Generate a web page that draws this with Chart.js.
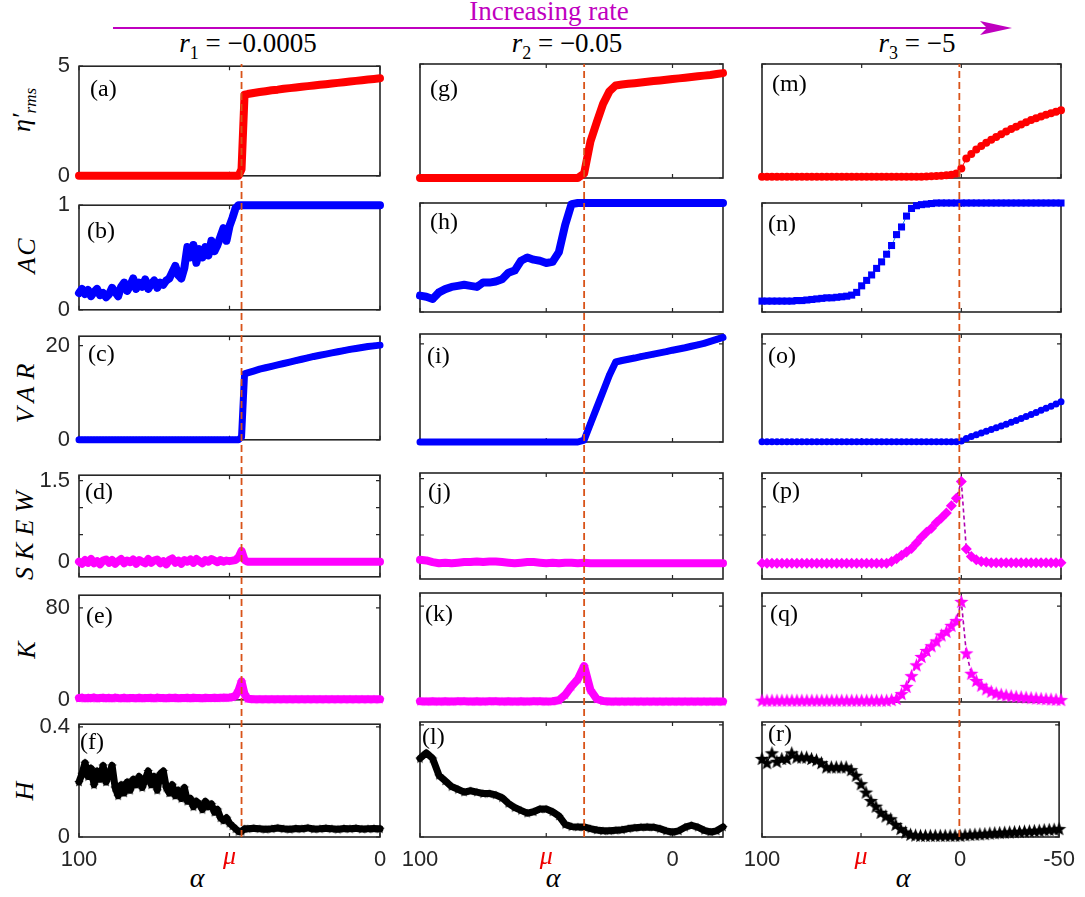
<!DOCTYPE html>
<html>
<head>
<meta charset="utf-8">
<script src="https://cdn.jsdelivr.net/npm/chart.js@4.4.0/dist/chart.umd.min.js"></script>
<style>
  html, body { margin: 0; padding: 0; background: #fff; }
  #fig { position: relative; width: 1085px; height: 897px; overflow: hidden; background: #fff; }
  #fig canvas { position: absolute; }
  .txt { position: absolute; white-space: nowrap; font-family: 'Liberation Serif', serif; color: #000; }
  .c { transform: translate(-50%, -50%); }
  .yl { font-style: italic; font-size: 26px; transform: translate(-50%, -50%) rotate(-90deg); }
  .yl sub { font-size: 17px; }
  .ct { font-size: 27px; }
  .ct sub { font-size: 18px; }
  .lt { font-size: 24px; line-height: 1; }
  .al { font-style: italic; font-size: 28px; }
</style>
</head>
<body>
<div id="fig">
  <svg width="1085" height="60" style="position:absolute;left:0;top:0">
    <line x1="113" y1="28" x2="990" y2="28" stroke="#bf00bf" stroke-width="2"/>
    <polygon points="980,21 1012,28 980,35 987,28" fill="#bf00bf"/>
  </svg>
  <div class="txt c" style="left:549px;top:11px;font-size:27px;color:#bf00bf">Increasing rate</div>
  <div class="txt c ct" style="left:248px;top:46px"><i>r</i><sub>1</sub> = −0.0005</div>
  <div class="txt c ct" style="left:567px;top:46px"><i>r</i><sub>2</sub> = −0.05</div>
  <div class="txt c ct" style="left:917px;top:46px"><i>r</i><sub>3</sub> = −5</div>

  <div class="txt yl" style="left:24px;top:110px">η′<sub>rms</sub></div>
  <div class="txt yl" style="left:27px;top:255px;letter-spacing:2px">AC</div>
  <div class="txt yl" style="left:26px;top:390px;letter-spacing:7px">VAR</div>
  <div class="txt yl" style="left:25px;top:532px;letter-spacing:7px">SKEW</div>
  <div class="txt yl" style="left:27px;top:650px">K</div>
  <div class="txt yl" style="left:25px;top:791px">H</div>

  <div class="txt c al" style="left:197px;top:878px">α</div>
  <div class="txt c al" style="left:553px;top:878px">α</div>
  <div class="txt c al" style="left:903px;top:878px">α</div>
</div>

<script>
// ---------- data ----------
const alpha1 = [100,99,98,97,96,95,94,93,92,91,
                90,89,88,87,86,85,84,83,82,81,
                80,79,78,77,76,75,74,73,72,71,
                70,69,68,67,66,65,64,63,62,61,
                60,59,58,57,56,55,54,53,52,51,
                50,49,48,47,46,45,
                44,42,40,38,36,34,32,30,28,26,24,22,20,18,16,14,12,10,8,6,4,2,0];
const alpha2 = [100,97.5,95,92.5,90,87.5,85,82.5,80,77.5,75,72.5,70,67.5,65,62.5,60,57.5,55,52.5,50,47.5,45,42.5,40,37.5,35,32.5,30,27.5,25,22.5,20,17.5,15,12.5,10,7.5,5,2.5,0,-2.5,-5,-7.5,-10,-12.5,-15,-17.5,-20];
const alpha3 = [100,97.5,95,92.5,90,87.5,85,82.5,80,77.5,75,72.5,70,67.5,65,62.5,60,57.5,55,52.5,50,47.5,45,42.5,40,37.5,35,32.5,30,27.5,25,22.5,20,17.5,15,12.5,10,7.5,5,2.5,0,-2.5,-5,-7.5,-10,-12.5,-15,-17.5,-20,-22.5,-25,-27.5,-30,-32.5,-35,-37.5,-40,-42.5,-45,-47.5,-50];

// dashed line position (alpha) per column, and alpha ranges / ticks
const tipAlpha = [46, 35, 1];
const alphaMin = [0, -20, -50];
const alphaMax = [100, 100, 100];
const alphaTicks = [[100, 50, 0], [100, 50, 0], [100, 50, 0, -50]];
const muTick = 50;

// y ranges and ticks per row
const yMin = [0, 0, 0, -0.28, 0, 0];
const yMax = [5, 1, 22, 1.6, 91, 0.41];
const yTicks = [[0, 5], [0, 1], [0, 20], [0, 0.5, 1, 1.5], [0, 80], [0, 0.4]];
const yTickText = [['0', '5'], ['0', '1'], ['0', '20'], ['0', '', '', '1.5'], ['0', '80'], ['0', '0.4']];

// column 1: r1 = -0.0005
const etaA = [0,0,0,0,0,0,0,0,0,0,
              0,0,0,0,0,0,0,0,0,0,
              0,0,0,0,0,0,0,0,0,0,
              0,0,0,0,0,0,0,0,0,0,
              0,0,0,0,0,0,0,0,0,0,
              0,0,0,0,0.3,3.7,
              3.73,3.78,3.82,3.86,3.9,3.93,3.97,4.0,4.03,4.06,4.09,4.12,4.15,4.18,4.21,4.24,4.27,4.3,4.33,4.36,4.39,4.42,4.45];
const acB = [0.16,0.2,0.15,0.19,0.13,0.17,0.2,0.14,0.16,0.12,
             0.15,0.21,0.17,0.13,0.22,0.26,0.18,0.23,0.3,0.2,
             0.26,0.22,0.29,0.2,0.25,0.28,0.21,0.26,0.24,0.28,
             0.3,0.36,0.42,0.33,0.3,0.4,0.6,0.5,0.62,0.45,
             0.58,0.5,0.6,0.52,0.66,0.56,0.62,0.7,0.78,0.66,
             0.8,0.88,0.97,1,1,1,
             1,1,1,1,1,1,1,1,1,1,1,1,1,1,1,1,1,1,1,1,1,1,1];
const varC = [0,0,0,0,0,0,0,0,0,0,
              0,0,0,0,0,0,0,0,0,0,
              0,0,0,0,0,0,0,0,0,0,
              0,0,0,0,0,0,0,0,0,0,
              0,0,0,0,0,0,0,0,0,0,
              0,0,0,0,0.6,14.0,
              14.2,14.6,15.0,15.3,15.6,15.9,16.2,16.5,16.8,17.1,17.4,17.7,17.95,18.2,18.45,18.7,18.95,19.2,19.4,19.6,19.8,19.95,20.1];
const skewD = [0,-0.04,0.03,-0.02,0.05,-0.03,0.01,-0.05,0.02,0.04,
               -0.02,0.03,-0.04,0.01,0.05,-0.03,0.02,-0.01,0.04,-0.04,
               0.03,0,-0.03,0.05,-0.02,0.02,0.04,-0.03,0.01,-0.05,
               0.03,0.06,-0.02,0.02,-0.04,0.03,0,0.04,-0.02,0.05,
               0.01,-0.03,0.03,0,0.05,0.02,-0.01,0.03,0,0.02,
               0.01,0.02,0.03,0.08,0.2,0.03,
               0,0,0,0,0,0,0,0,0,0,0,0,0,0,0,0,0,0,0,0,0,0,0];
const kurtE = [1.5,1.9,1.3,1.7,1.4,2.0,1.3,1.6,1.8,1.4,
               1.7,1.3,1.9,1.5,1.4,1.8,1.3,1.6,1.5,1.4,
               1.8,1.4,1.6,1.5,1.7,1.3,1.9,1.5,1.6,1.4,
               1.7,1.5,1.8,1.4,1.6,1.5,1.7,1.4,1.8,1.5,
               1.6,1.4,1.7,1.5,1.6,1.8,1.5,1.7,1.9,1.8,
               2.0,2.4,3.5,8,16,5,
               1.0,0.5,0.5,0.5,0.5,0.5,0.5,0.5,0.5,0.5,0.5,0.5,0.5,0.5,0.5,0.5,0.5,0.5,0.5,0.5,0.5,0.5,0.5];
const hurstF = [0.2,0.23,0.27,0.22,0.25,0.19,0.24,0.21,0.26,0.2,
                0.23,0.26,0.18,0.15,0.19,0.16,0.2,0.17,0.21,0.19,
                0.22,0.18,0.21,0.24,0.19,0.22,0.17,0.23,0.24,0.18,
                0.16,0.19,0.15,0.17,0.14,0.18,0.13,0.14,0.11,0.13,
                0.12,0.1,0.13,0.11,0.12,0.09,0.1,0.07,0.06,0.07,
                0.05,0.04,0.03,0.02,0.02,0.03,
                0.03,0.032,0.03,0.028,0.03,0.033,0.03,0.028,0.031,0.03,0.033,0.029,0.03,0.032,0.03,0.028,0.031,0.03,0.032,0.029,0.03,0.031,0.03];

// column 2: r2 = -0.05
const etaG = [0,0,0,0,0,0,0,0,0,0,0,0,0,0,0,0,0,0,0,0,0,0,0,0,0,0,0.2,1.6,2.45,3.25,3.8,4.06,4.1,4.13,4.16,4.19,4.22,4.25,4.28,4.31,4.34,4.37,4.4,4.43,4.46,4.49,4.52,4.56,4.6];
const acH = [0.15,0.14,0.12,0.18,0.21,0.23,0.24,0.25,0.24,0.23,0.27,0.27,0.28,0.3,0.36,0.38,0.47,0.5,0.48,0.47,0.45,0.46,0.55,0.8,0.99,1,1,1,1,1,1,1,1,1,1,1,1,1,1,1,1,1,1,1,1,1,1,1,1];
const varI = [0,0,0,0,0,0,0,0,0,0,0,0,0,0,0,0,0,0,0,0,0,0,0,0,0,0,0.4,3.7,7.0,10.3,13.6,16.3,16.6,16.85,17.1,17.4,17.65,17.9,18.15,18.4,18.7,18.95,19.2,19.5,19.8,20.1,20.5,20.9,21.3];
const skewJ = [0.06,0.05,0.02,0,0.01,0,0.01,0.02,0.02,0.03,0.02,0.03,0.03,0.02,0.01,0,0.01,0.02,0.02,0.01,0,0.01,0,0.01,0.01,0,0.01,0,0,0,0,0,0,0,0,0,0,0,0,0,0,0,0,0,0,0,0,0,0];
const kurtK = [0.6,0.5,0.7,0.5,0.6,0.5,0.6,0.7,0.5,0.6,0.5,0.6,0.7,0.5,0.6,0.5,0.6,0.5,0.7,0.6,0.5,0.6,1.5,6,13,19,30,10,2.5,0.8,0.4,0.4,0.4,0.4,0.4,0.4,0.4,0.4,0.4,0.4,0.4,0.4,0.4,0.4,0.4,0.4,0.4,0.4,0.4];
const hurstL = [0.28,0.3,0.28,0.22,0.2,0.18,0.17,0.16,0.165,0.16,0.155,0.155,0.15,0.14,0.12,0.105,0.095,0.085,0.09,0.1,0.1,0.09,0.075,0.045,0.037,0.036,0.036,0.03,0.025,0.022,0.022,0.024,0.026,0.03,0.033,0.035,0.036,0.035,0.03,0.022,0.018,0.022,0.035,0.042,0.035,0.024,0.018,0.022,0.036];

// column 3: r3 = -5
const etaM = [0.05,0.05,0.05,0.05,0.05,0.05,0.05,0.05,0.05,0.05,0.05,0.05,0.05,0.05,0.05,0.05,0.05,0.05,0.05,0.05,0.05,0.05,0.05,0.05,0.05,0.05,0.05,0.05,0.05,0.05,0.05,0.05,0.06,0.07,0.08,0.09,0.1,0.12,0.14,0.2,0.42,0.85,1.05,1.25,1.4,1.55,1.68,1.8,1.92,2.04,2.15,2.25,2.35,2.45,2.54,2.62,2.7,2.77,2.84,2.91,2.97];
const acN = [0.1,0.1,0.1,0.1,0.1,0.1,0.1,0.105,0.105,0.11,0.115,0.12,0.125,0.13,0.13,0.135,0.14,0.145,0.155,0.18,0.24,0.29,0.34,0.4,0.46,0.53,0.61,0.71,0.78,0.88,0.95,0.975,0.985,0.99,0.995,1,1,1,1,1,1,1,1,1,1,1,1,1,1,1,1,1,1,1,1,1,1,1,1,1,1];
const varO = [0.05,0.05,0.05,0.05,0.05,0.05,0.05,0.05,0.05,0.05,0.05,0.05,0.05,0.05,0.05,0.05,0.05,0.05,0.05,0.05,0.05,0.05,0.05,0.05,0.05,0.05,0.05,0.05,0.05,0.05,0.05,0.05,0.05,0.05,0.05,0.05,0.05,0.05,0.05,0.05,0.2,0.7,1.1,1.5,1.85,2.2,2.55,2.9,3.25,3.6,4.0,4.4,4.8,5.2,5.6,6.0,6.45,6.9,7.3,7.75,8.2];
const skewP = [0,0,0,0,0,0,0,0,0,0,0,0,0,0,0,0,0,0,0,0,0,0,0,0,0,0,0.03,0.08,0.14,0.2,0.26,0.36,0.46,0.55,0.62,0.72,0.8,0.89,1.02,1.15,1.45,0.25,0.12,0.06,0.03,0.02,0.01,0.01,0.01,0.01,0.01,0.01,0.01,0.01,0.01,0.01,0.01,0.01,0.01,0.01,0.01];
const kurtQ = [1.5,1.5,1.5,1.5,1.5,1.5,1.5,1.5,1.5,1.5,1.5,1.5,1.5,1.5,1.5,1.5,1.5,1.5,1.5,1.5,1.5,1.5,1.5,1.5,1.5,1.5,2,3,7,13,22,31,38,43,47,51,56,59,64,68,84,41,24,18,14,11,9,7.5,6.5,5.8,5.2,4.7,4.3,4,3.6,3.3,3,2.7,2.5,2.2,2];
const hurstR = [0.28,0.265,0.3,0.27,0.28,0.28,0.3,0.285,0.285,0.285,0.28,0.275,0.265,0.25,0.25,0.25,0.25,0.25,0.24,0.22,0.19,0.16,0.13,0.11,0.088,0.075,0.065,0.045,0.03,0.018,0.01,0.007,0.006,0.006,0.006,0.006,0.006,0.006,0.006,0.006,0.006,0.008,0.009,0.01,0.011,0.012,0.014,0.015,0.016,0.017,0.018,0.019,0.02,0.021,0.022,0.023,0.024,0.026,0.027,0.028,0.03];

// ---------- layout ----------
const COLS = [{ left: 79, right: 380 }, { left: 420, right: 723 }, { left: 762, right: 1061 }];
const ROWS = [{ top: 64, bottom: 178 }, { top: 203, bottom: 312 }, { top: 334, bottom: 442 },
              { top: 473, bottom: 579 }, { top: 593, bottom: 702 }, { top: 722, bottom: 837 }];
const PAD_L = 70, PAD_R = 24, PAD_T = 20, PAD_B = 20, PAD_B_LAST = 52;

const alphas = [alpha1, alpha2, alpha3];
const series = [
  [etaA, acB, varC, skewD, kurtE, hurstF],
  [etaG, acH, varI, skewJ, kurtK, hurstL],
  [etaM, acN, varO, skewP, kurtQ, hurstR],
];
const letterPos = [
  [[90, 80], [87, 222], [88, 345], [85, 483], [86, 607], [80, 733]],
  [[430, 80], [430, 213], [427, 347], [428, 483], [425, 605], [422, 728]],
  [[772, 75], [768, 215], [768, 347], [772, 482], [770, 605], [768, 725]],
];
const ROW_COLOR = ['#ff0000', '#0000ff', '#0000ff', '#ff00ff', '#ff00ff', '#000000'];
const ROW_MARK = ['circle', 'rect', 'circle', 'rectRot', 'star', 'star'];
const TEXT = '#262626';

function starImg(color, r) {
  const c = document.createElement('canvas');
  const s = Math.ceil(2 * r + 2);
  c.width = c.height = s;
  const g = c.getContext('2d');
  g.fillStyle = color;
  g.beginPath();
  for (let i = 0; i < 10; i++) {
    const rr = i % 2 ? r * 0.42 : r;
    const a = -Math.PI / 2 + i * Math.PI / 5;
    g.lineTo(s / 2 + rr * Math.cos(a), s / 2 + rr * Math.sin(a) + r * 0.1);
  }
  g.closePath();
  g.fill();
  return c;
}

function styleFor(col, row) {
  const color = ROW_COLOR[row], mark = ROW_MARK[row];
  if (col < 2) {
    return {
      borderColor: color, backgroundColor: color,
      borderWidth: [8, 8, 7, 8, 8, 7][row],
      borderJoinStyle: 'round', borderCapStyle: 'round',
      pointRadius: row === 1 ? 4 : 3, pointBorderWidth: 0,
      pointStyle: mark === 'star' ? starImg(color, 5) : mark,
    };
  }
  const s = {
    borderColor: color, backgroundColor: color, borderWidth: 1,
    pointRadius: 4, pointBorderWidth: 0,
    pointStyle: mark === 'star' ? starImg(color, 7.5) : mark,
  };
  if (row === 1) { s.borderColor = '#1e8fe8'; s.pointRadius = 5; }
  if (row === 2) s.pointRadius = 3.5;
  if (row === 3) s.pointRadius = 5.5;
  if (row === 3 || row === 4) { s.borderColor = '#b000b0'; s.borderDash = [4, 3]; s.borderWidth = 1.6; }
  return s;
}

// axes box with inward ticks on all four sides
const frame = {
  id: 'frame',
  beforeDatasetsDraw(chart) {
    const { ctx, chartArea: a, scales: { x, y } } = chart;
    ctx.save();
    ctx.strokeStyle = TEXT;
    ctx.lineWidth = 1.6;
    ctx.strokeRect(a.left, a.top, a.right - a.left, a.bottom - a.top);
    ctx.lineWidth = 1.2;
    ctx.beginPath();
    x.ticks.forEach(t => {
      const p = x.getPixelForValue(t.value);
      ctx.moveTo(p, a.bottom); ctx.lineTo(p, a.bottom - 4);
      ctx.moveTo(p, a.top); ctx.lineTo(p, a.top + 4);
    });
    y.ticks.forEach(t => {
      const p = y.getPixelForValue(t.value);
      ctx.moveTo(a.left, p); ctx.lineTo(a.left + 4, p);
      ctx.moveTo(a.right, p); ctx.lineTo(a.right - 4, p);
    });
    ctx.stroke();
    ctx.restore();
  }
};

const fig = document.getElementById('fig');

function addCanvas(left, top, w, h) {
  const cv = document.createElement('canvas');
  cv.width = w; cv.height = h;
  cv.style.left = left + 'px'; cv.style.top = top + 'px';
  cv.style.width = w + 'px'; cv.style.height = h + 'px';
  fig.appendChild(cv);
  return cv;
}

function makePanel(ci, ri) {
  const col = COLS[ci], row = ROWS[ri];
  const last = ri === ROWS.length - 1;
  const padB = last ? PAD_B_LAST : PAD_B;
  const cv = addCanvas(col.left - PAD_L, row.top - PAD_T,
    col.right - col.left + PAD_L + PAD_R, row.bottom - row.top + PAD_T + padB);
  const xs = alphas[ci], ys = series[ci][ri];

  new Chart(cv, {
    type: 'scatter',
    data: {
      datasets: [{
        data: xs.map((a, i) => ({ x: a, y: ys[i] })),
        showLine: true,
        clip: false,
        ...styleFor(ci, ri),
      }],
    },
    options: {
      responsive: false, animation: false,
      layout: { padding: { left: 0, right: PAD_R, top: PAD_T, bottom: 0 } },
      plugins: { legend: { display: false }, tooltip: { enabled: false } },
      scales: {
        x: {
          type: 'linear', min: alphaMin[ci], max: alphaMax[ci], reverse: true,
          grid: { display: false, drawTicks: false }, border: { display: false },
          afterBuildTicks: s => { s.ticks = alphaTicks[ci].map(v => ({ value: v })); },
          afterFit: s => { s.height = padB; },
          ticks: {
            display: last, padding: 10, autoSkip: false, maxRotation: 0,
            callback: v => v === muTick ? 'μ' : String(v),
            color: c => (c.tick && c.tick.value === muTick) ? '#ee0000' : TEXT,
            font: c => (c.tick && c.tick.value === muTick)
              ? { family: 'Liberation Serif', style: 'italic', size: 26, lineHeight: 0.75 }
              : { family: 'Liberation Sans', size: 22 },
          },
        },
        y: {
          type: 'linear', min: yMin[ri], max: yMax[ri],
          grid: { display: false, drawTicks: false }, border: { display: false },
          afterBuildTicks: s => { s.ticks = yTicks[ri].map(v => ({ value: v })); },
          afterFit: s => { s.width = PAD_L; },
          ticks: {
            display: ci === 0, padding: 9, autoSkip: false,
            callback: (v, i) => yTickText[ri][i],
            color: TEXT,
            font: { family: 'Liberation Sans', size: 22 },
          },
        },
      },
    },
    plugins: [frame],
  });

  const lt = document.createElement('div');
  lt.className = 'txt lt';
  lt.textContent = '(' + 'abcdefghijklmnopqr'[ci * 6 + ri] + ')';
  lt.style.left = letterPos[ci][ri][0] + 'px';
  lt.style.top = (letterPos[ci][ri][1] - 4) + 'px';
  fig.appendChild(lt);
}

COLS.forEach((_, ci) => ROWS.forEach((_, ri) => makePanel(ci, ri)));

// dashed vertical line through each column
COLS.forEach((col, ci) => {
  const top = ROWS[0].top, bottom = ROWS[ROWS.length - 1].bottom;
  const cv = addCanvas(col.left, top, col.right - col.left, bottom - top);
  new Chart(cv, {
    type: 'scatter',
    data: {
      datasets: [{
        data: [{ x: tipAlpha[ci], y: 0 }, { x: tipAlpha[ci], y: 1 }],
        showLine: true, borderColor: '#d95319', borderWidth: 1.8,
        borderDash: [7, 4], pointRadius: 0, clip: false,
      }],
    },
    options: {
      responsive: false, animation: false,
      layout: { padding: 0 },
      plugins: { legend: { display: false }, tooltip: { enabled: false } },
      scales: {
        x: { display: false, type: 'linear', min: alphaMin[ci], max: alphaMax[ci], reverse: true },
        y: { display: false, min: 0, max: 1 },
      },
    },
  });
});
</script>
</body>
</html>
